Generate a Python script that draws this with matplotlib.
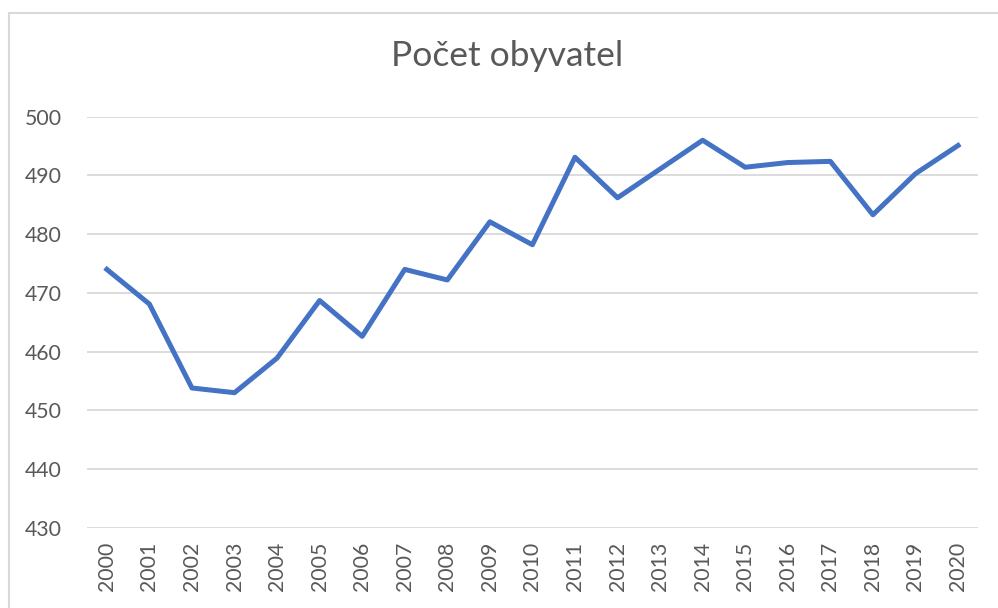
import matplotlib
matplotlib.use("Agg")
import matplotlib.pyplot as plt
from matplotlib.lines import Line2D

years = [str(y) for y in range(2000, 2021)]
population = [474.0, 468.1, 453.8, 453.0, 458.9, 468.7, 462.6, 474.0, 472.2, 482.1,
              478.2, 493.1, 486.2, 491.1, 496.0, 491.4, 492.2, 492.4, 483.3, 490.3, 495.1]
y_ticks = [430, 440, 450, 460, 470, 480, 490, 500]
title = "Počet obyvatel"

plt.rcParams['font.family'] = ['Lato', 'DejaVu Sans']

fig = plt.figure(figsize=(9.98, 6.08), dpi=100)
ax = fig.add_axes([0.087, 0.132, 0.893, 0.676])

x = list(range(len(years)))
ax.plot(x, population, color='#4472C4', linewidth=3.6, solid_joinstyle='round')

ax.set_xlim(-0.47, len(years) - 0.53)
ax.set_ylim(430, 500)
ax.set_yticks(y_ticks)
ax.set_xticks(x)
ax.set_xticklabels(years, rotation=90)
ax.yaxis.grid(True, color='#D9D9D9', linewidth=1.3)
ax.set_axisbelow(True)
for s in ax.spines.values():
    s.set_visible(False)
ax.tick_params(axis='both', length=0, colors='#595959', labelsize=15.3)
ax.tick_params(axis='y', pad=18)
ax.tick_params(axis='x', pad=10)

fig.text(0.508, 0.908, title, ha='center', va='center', fontsize=25.5, color='#595959')

# chart border (top and left visible)
fig.add_artist(Line2D([9/998, 1.0], [1 - 13/608, 1 - 13/608], color='#D9D9D9', linewidth=1.5, transform=fig.transFigure))
fig.add_artist(Line2D([9/998, 9/998], [0, 1 - 13/608], color='#D9D9D9', linewidth=1.5, transform=fig.transFigure))

fig.savefig('out.png', dpi=100, facecolor='white')
